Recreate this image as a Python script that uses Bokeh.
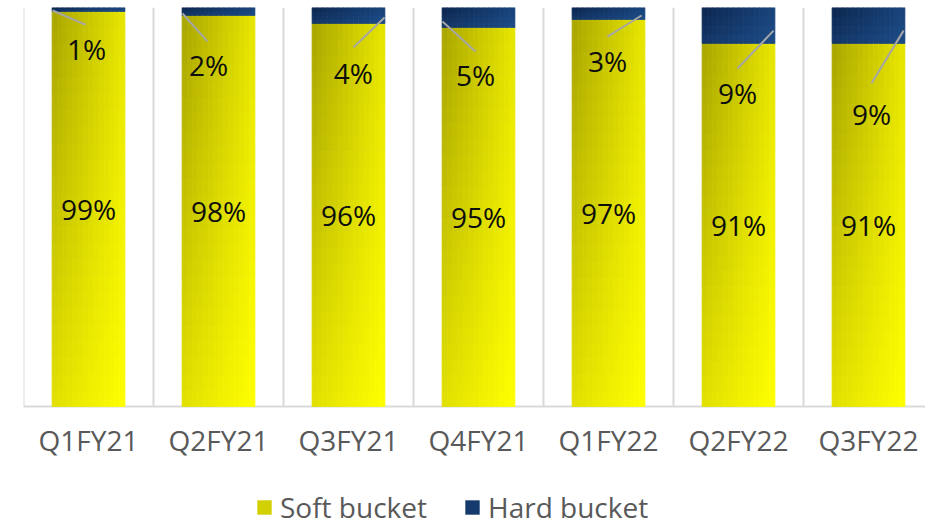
import numpy as np
from bokeh.plotting import figure
from bokeh.models import Range1d, Legend, LegendItem, ColumnDataSource
from bokeh.core.properties import value
from bokeh.embed import file_html
from bokeh.resources import INLINE

# ---------------- data ----------------
categories = ["Q1FY21", "Q2FY21", "Q3FY21", "Q4FY21", "Q1FY22", "Q2FY22", "Q3FY22"]
soft = [99, 98, 96, 95, 97, 91, 91]   # Soft bucket, %
hard = [1, 2, 4, 5, 3, 9, 9]          # Hard bucket, %
series_names = ["Soft bucket", "Hard bucket"]

# ---------------- label layout (category units / percent units) ----------------
hard_lbl_dx = [-0.015, -0.077, 0.038, -0.023, -0.008, -0.008, 0.023]
hard_lbl_y = [89.6, 85.5, 83.7, 83.0, 86.5, 78.6, 73.2]
lead_dx0 = [-0.277, -0.277, 0.277, -0.277, 0.254, 0.27, 0.27]
lead_y0 = [99.25, 98.5, 97.5, 96.5, 98.0, 94.2, 94.2]
lead_dx1 = [-0.023, -0.085, 0.038, -0.023, -0.008, -0.008, 0.023]
lead_y1 = [95.7, 91.5, 90.0, 89.0, 92.7, 84.7, 81.0]
cat_label_y = -8.3     # category labels sit below the baseline (percent units)

FONT = value("Open Sans")
BAR_W = 0.56
PX_PER_PCT = 3.99
FRAME_H = 526 - 7
Y_MIN = -(FRAME_H - 100 * PX_PER_PCT) / PX_PER_PCT
X_MAX = 902 / 130

p = figure(width=925, height=526, output_backend="svg", toolbar_location=None,
           x_range=Range1d(0, X_MAX), y_range=Range1d(Y_MIN, 100),
           min_border_left=23, min_border_right=0, min_border_top=7, min_border_bottom=0,
           x_axis_location=None, y_axis_location=None)
p.outline_line_color = None
p.background_fill_color = "white"
p.border_fill_color = "white"
p.xgrid.grid_line_color = None
p.ygrid.grid_line_color = None

n = len(categories)
centers = np.arange(n) + 0.5

# ---------------- category separators & baseline ----------------
sep_x = list(range(n + 1))
p.segment(x0=sep_x, y0=[0] * (n + 1), x1=sep_x, y1=[100] * (n + 1),
          line_color="#d9d9d9", line_width=2)
p.segment(x0=[0], y0=[0], x1=[X_MAX], y1=[0], line_color="#d9d9d9", line_width=2)

# ---------------- gradient-filled stacked bars ----------------
def shade(base, dark, t):
    return "#%02x%02x%02x" % tuple(int(round(max(0, min(255, a + (b - a) * t)))) for a, b in zip(base, dark))

YEL_LIGHT, YEL_DARK = (255, 255, 0), (168, 164, 0)
BLU_LIGHT, BLU_DARK = (28, 76, 136), (12, 38, 78)

L, R, B, T, C = [], [], [], [], []
NC = 14
for i, (s, h) in enumerate(zip(soft, hard)):
    x0 = centers[i] - BAR_W / 2
    for c in range(NC):
        um = (c + 0.5) / NC
        lft = x0 + BAR_W * c / NC
        rgt = x0 + BAR_W * (c + 1) / NC
        NR = 24
        for r in range(NR):
            vm = (r + 0.5) / NR
            t = (30 * (1 - um) + 24 * vm + 33 * (1 - um) * vm) / 87
            L.append(lft); R.append(rgt)
            B.append(s * r / NR); T.append(s * (r + 1) / NR)
            C.append(shade(YEL_LIGHT, YEL_DARK, t))
        NRH = 4
        for r in range(NRH):
            vm = (r + 0.5) / NRH
            t = 0.55 * (1 - um) + 0.25 * vm + 0.2 * (1 - um) * vm
            L.append(lft); R.append(rgt)
            B.append(s + h * r / NRH); T.append(s + h * (r + 1) / NRH)
            C.append(shade(BLU_LIGHT, BLU_DARK, t))

src = ColumnDataSource(dict(left=L, right=R, bottom=B, top=T, color=C))
p.quad(left="left", right="right", bottom="bottom", top="top", source=src,
       fill_color="color", line_color="color", line_width=0.8)

# ---------------- leader lines ----------------
p.segment(x0=centers + np.array(lead_dx0), y0=lead_y0,
          x1=centers + np.array(lead_dx1), y1=lead_y1,
          line_color="#a6a6a6", line_width=2)

# ---------------- data labels ----------------
p.text(x=centers, y=[s / 2 for s in soft], text=[f"{s}%" for s in soft],
       text_font=FONT, text_font_size="28px", text_color="#0d0d0d",
       text_align="center", text_baseline="middle")
p.text(x=centers + np.array(hard_lbl_dx), y=hard_lbl_y, text=[f"{h}%" for h in hard],
       text_font=FONT, text_font_size="28px", text_color="#0d0d0d",
       text_align="center", text_baseline="middle")

# ---------------- category (axis) labels ----------------
p.text(x=centers, y=[cat_label_y] * n, text=categories,
       text_font=FONT, text_font_size="28px", text_color="#595959",
       text_align="center", text_baseline="middle")

# ---------------- legend (swatch-only renderers, nothing drawn in the frame) ----------------
nan = float("nan")
r_soft = p.quad(left=[nan], right=[nan], bottom=[nan], top=[nan], fill_color="#d2d000", line_color=None)
r_hard = p.quad(left=[nan], right=[nan], bottom=[nan], top=[nan], fill_color="#153b6e", line_color=None)
legend = Legend(items=[LegendItem(label=series_names[0], renderers=[r_soft]),
                       LegendItem(label=series_names[1], renderers=[r_hard])],
                orientation="horizontal", location=(232, 0),
                glyph_width=18, glyph_height=18, label_standoff=7, spacing=36,
                padding=0, margin=0, border_line_color=None, background_fill_alpha=0,
                label_text_font="Open Sans", label_text_font_size="28px",
                label_text_color="#595959")
p.add_layout(legend, "center")

open("out.html", "w").write(file_html(p, INLINE))
